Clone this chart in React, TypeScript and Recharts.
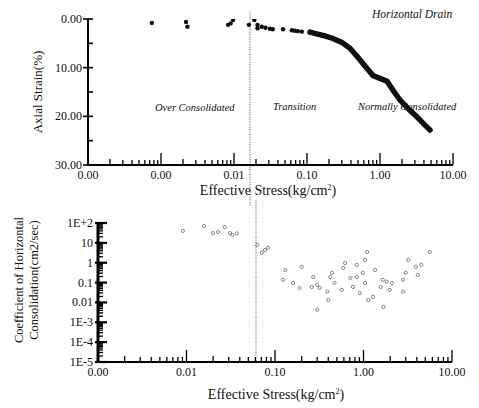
import React from 'react';
import {
  ScatterChart,
  Scatter,
  XAxis,
  YAxis,
  ZAxis,
  ReferenceLine
} from 'recharts';

// top panel: axial strain vs effective stress
const sparseStress = [
  0.00075, 0.0022, 0.0023, 0.0083, 0.0097, 0.009, 0.016, 0.019, 0.021, 0.021,
  0.024, 0.027, 0.031, 0.034, 0.047, 0.062, 0.068, 0.075, 0.085
];
const sparseStrain = [
  0.8, 0.6, 1.6, 1.2, 0.2, 0.9, 1.2, 0.2, 1.2, 1.9, 1.6, 1.8, 2.0, 2.1, 2.1,
  2.3, 2.4, 2.5, 2.6
];
const curveStress = [
  0.11, 0.14, 0.18, 0.227, 0.3, 0.388, 0.5, 0.66, 0.8, 1.0, 1.25, 1.5, 1.87,
  2.5, 3.2, 4.0, 4.84
];
const curveStrain = [
  2.7, 3.1, 3.5, 4.0, 4.8, 6.0, 7.9, 10.1, 11.6, 12.2, 12.8, 14.6, 16.6, 18.6,
  20.1, 21.6, 22.8
];

// bottom panel: coefficient of horizontal consolidation vs effective stress
const cvStress = [
  0.0091, 0.0158, 0.0199, 0.0227, 0.027, 0.031, 0.033, 0.037, 0.063, 0.071,
  0.077, 0.083, 0.123, 0.131, 0.16, 0.19, 0.2, 0.26, 0.27, 0.3, 0.32, 0.39,
  0.4, 0.3, 0.42, 0.44, 0.47, 0.57, 0.59, 0.62, 0.71, 0.76, 0.84, 0.84, 0.91,
  0.98, 1.04, 1.04, 1.1, 1.13, 1.35, 1.28, 1.56, 1.65, 1.68, 1.83, 1.98, 2.1,
  2.8, 3.0, 3.2, 3.9, 4.1, 4.5, 2.8, 5.6
];
const cvValue = [
  40, 70, 31, 35, 63, 31, 25, 30, 7.9, 3.1, 4.4, 5.6, 0.137, 0.43, 0.095,
  0.053, 0.62, 0.06, 0.19, 0.077, 0.054, 0.035, 0.013, 0.0043, 0.19, 0.31,
  0.095, 0.043, 0.55, 0.97, 0.17, 0.06, 0.19, 0.78, 0.03, 0.31, 0.095, 1.4,
  3.5, 0.013, 0.43, 0.019, 0.06, 0.137, 0.006, 0.11, 0.043, 0.095, 0.137,
  0.31, 1.4, 0.62, 0.24, 0.78, 0.035, 3.5
];

const topMajor = [0.0001, 0.001, 0.01, 0.1, 1, 10];
const topMajorLabels = ['0.00', '0.00', '0.01', '0.10', '1.00', '10.00'];
const strainTicks = [0, 5, 10, 15, 20, 25, 30];
const strainLabels = ['0.00', '', '10.00', '', '20.00', '', '30.00'];

const botMajor = [0.001, 0.01, 0.1, 1, 10];
const botMajorLabels = ['0.00', '0.01', '0.10', '1.00', '10.00'];
const cvMajor = [0.00001, 0.0001, 0.001, 0.01, 0.1, 1, 10, 100];
const cvMajorLabels = ['1E-5', '1E-4', '1E-3', '0.01', '0.1', '1', '10', '1E+2'];

const sparseData = sparseStress.map((x, i) => ({ x, y: sparseStrain[i] }));
const curveData = curveStress.map((x, i) => ({ x, y: curveStrain[i] }));
const cvData = cvStress.map((x, i) => ({ x, y: cvValue[i] }));

const FONT = 'Times New Roman, Liberation Serif, DejaVu Serif, serif';

// major decades plus 2..9 minor ticks between them
const logTicks = (majors: number[]) => {
  const out: number[] = [];
  majors.forEach((m, i) => {
    out.push(m);
    if (i < majors.length - 1) {
      for (let k = 2; k <= 9; k++) out.push(+(m * k).toPrecision(6));
    }
  });
  return out;
};

const findMajor = (v: number, majors: number[]) =>
  majors.findIndex((m) => Math.abs(Math.log10(v) - Math.log10(m)) < 1e-6);

const XLogTick = (props: any) => {
  const { x, y, payload, majors, labels } = props;
  const v = payload.value;
  const idx = findMajor(v, majors);
  const ratio = v / Math.pow(10, Math.floor(Math.log10(v) + 1e-9));
  const len = idx >= 0 ? 12 : Math.round(ratio) === 2 ? 6 : 5;
  return (
    <g>
      <line x1={x} x2={x} y1={y} y2={y - len} stroke='#000' strokeWidth={1.3} />
      {idx >= 0 && (
        <text
          x={x}
          y={y + 14}
          textAnchor='middle'
          fontSize={12}
          fontFamily={FONT}
          fill='#111'
        >
          {labels[idx]}
        </text>
      )}
    </g>
  );
};

const StrainTick = (props: any) => {
  const { x, y, payload } = props;
  const idx = strainTicks.indexOf(payload.value);
  const label = strainLabels[idx];
  return (
    <g>
      <line
        x1={label ? x - 5 : x}
        x2={x + 5}
        y1={y}
        y2={y}
        stroke='#000'
        strokeWidth={1.6}
      />
      {label && (
        <text
          x={x - 6}
          y={y + 4}
          textAnchor='end'
          fontSize={12}
          fontFamily={FONT}
          fill='#111'
        >
          {label}
        </text>
      )}
    </g>
  );
};

const CvTick = (props: any) => {
  const { x, y, payload } = props;
  const idx = findMajor(payload.value, cvMajor);
  return (
    <g>
      <line
        x1={idx >= 0 ? x - 3 : x}
        x2={x + (idx >= 0 ? 9 : 5)}
        y1={y}
        y2={y}
        stroke='#000'
        strokeWidth={idx >= 0 ? 2.2 : 1.3}
      />
      {idx >= 0 && (
        <text
          x={x - 5}
          y={y + 4}
          textAnchor='end'
          fontSize={12}
          fontFamily={FONT}
          fill='#111'
        >
          {cvMajorLabels[idx]}
        </text>
      )}
    </g>
  );
};

const Hollow = (props: any) => (
  <circle
    cx={props.cx}
    cy={props.cy}
    r={1.6}
    fill='none'
    stroke='#555'
    strokeWidth={0.7}
  />
);

const Dot = (props: any) => (
  <circle cx={props.cx} cy={props.cy} r={2.2} fill='#111' />
);

const txt = (style: React.CSSProperties): React.CSSProperties => ({
  position: 'absolute',
  fontFamily: FONT,
  color: '#111',
  whiteSpace: 'nowrap',
  lineHeight: 1,
  ...style
});

const App = () => {
  const topTicks = logTicks(topMajor);
  const botTicks = logTicks(botMajor);
  const cvTicks = logTicks(cvMajor);

  return (
    <div
      style={{
        position: 'absolute',
        left: 0,
        top: 0,
        width: 479,
        height: 408,
        background: '#fff',
        overflow: 'hidden'
      }}
    >
      <div style={{ position: 'absolute', left: 0, top: 0 }}>
        <ScatterChart
          width={479}
          height={210}
          margin={{ top: 19, right: 26, bottom: 25, left: 28 }}
        >
          <XAxis
            dataKey='x'
            type='number'
            scale='log'
            domain={[0.0001, 10]}
            ticks={topTicks}
            interval={0}
            allowDataOverflow
            height={20}
            tickSize={0}
            tickMargin={0}
            axisLine={{ stroke: '#000', strokeWidth: 2 }}
            tickLine={false}
            tick={<XLogTick majors={topMajor} labels={topMajorLabels} />}
          />
          <YAxis
            dataKey='y'
            type='number'
            domain={[0, 30]}
            reversed
            ticks={strainTicks}
            interval={0}
            allowDataOverflow
            width={60}
            tickSize={0}
            tickMargin={0}
            axisLine={{ stroke: '#000', strokeWidth: 2 }}
            tickLine={false}
            tick={<StrainTick />}
          />
          <ZAxis range={[10, 10]} />
          <ReferenceLine
            segment={[
              { x: 0.0166, y: -1.5 },
              { x: 0.0166, y: 38.5 }
            ]}
            ifOverflow='visible'
            stroke='#444'
            strokeWidth={1}
            strokeDasharray='1 1.5'
          />
          <Scatter
            data={sparseData}
            shape={<Dot />}
            isAnimationActive={false}
          />
          <Scatter
            data={curveData}
            shape={<Dot />}
            line={{ stroke: '#111', strokeWidth: 5.5, strokeLinecap: 'round' }}
            lineType='joint'
            isAnimationActive={false}
          />
        </ScatterChart>
      </div>

      <div style={{ position: 'absolute', left: 0, top: 200 }}>
        <ScatterChart
          width={479}
          height={208}
          margin={{ top: 23, right: 27, bottom: 26, left: 38 }}
        >
          <XAxis
            dataKey='x'
            type='number'
            scale='log'
            domain={[0.001, 10]}
            ticks={botTicks}
            interval={0}
            allowDataOverflow
            height={20}
            tickSize={0}
            tickMargin={0}
            axisLine={{ stroke: '#000', strokeWidth: 2 }}
            tickLine={false}
            tick={<XLogTick majors={botMajor} labels={botMajorLabels} />}
          />
          <YAxis
            dataKey='y'
            type='number'
            scale='log'
            domain={[0.00001, 100]}
            ticks={cvTicks}
            interval={0}
            allowDataOverflow
            width={60}
            tickSize={0}
            tickMargin={0}
            axisLine={{ stroke: '#000', strokeWidth: 3 }}
            tickLine={false}
            tick={<CvTick />}
          />
          <ZAxis range={[10, 10]} />
          <ReferenceLine
            segment={[
              { x: 0.061, y: 1500 },
              { x: 0.061, y: 0.00001 }
            ]}
            ifOverflow='visible'
            stroke='#444'
            strokeWidth={1}
            strokeDasharray='1 1.5'
          />
          <Scatter
            data={cvData}
            shape={<Hollow />}
            isAnimationActive={false}
          />
        </ScatterChart>
      </div>

      <div style={txt({ left: 372, top: 9, fontSize: 11.5, fontStyle: 'italic' })}>
        Horizontal Drain
      </div>
      <div style={txt({ left: 155, top: 103, fontSize: 10.5, fontStyle: 'italic' })}>
        Over Consolidated
      </div>
      <div style={txt({ left: 273, top: 102, fontSize: 10.5, fontStyle: 'italic' })}>
        Transition
      </div>
      <div style={txt({ left: 358, top: 102, fontSize: 10.5, fontStyle: 'italic' })}>
        Normally Consolidated
      </div>

      <div
        style={txt({
          left: 37,
          top: 92,
          fontSize: 13,
          transform: 'translate(-50%, -50%) rotate(-90deg)'
        })}
      >
        Axial Strain(%)
      </div>
      <div
        style={txt({
          left: 268,
          top: 191,
          fontSize: 14,
          transform: 'translate(-50%, -50%)'
        })}
      >
        Effective Stress(kg/cm<sup style={{ fontSize: 8 }}>2</sup>)
      </div>

      <div
        style={txt({
          left: 27,
          top: 280,
          fontSize: 12.5,
          lineHeight: '15px',
          textAlign: 'center',
          transform: 'translate(-50%, -50%) rotate(-90deg)'
        })}
      >
        Coefficient of Horizontal
        <br />
        Consolidation(cm2/sec)
      </div>
      <div
        style={txt({
          left: 276,
          top: 395,
          fontSize: 14,
          transform: 'translate(-50%, -50%)'
        })}
      >
        Effective Stress(kg/cm<sup style={{ fontSize: 8 }}>2</sup>)
      </div>
    </div>
  );
};

export default App;
